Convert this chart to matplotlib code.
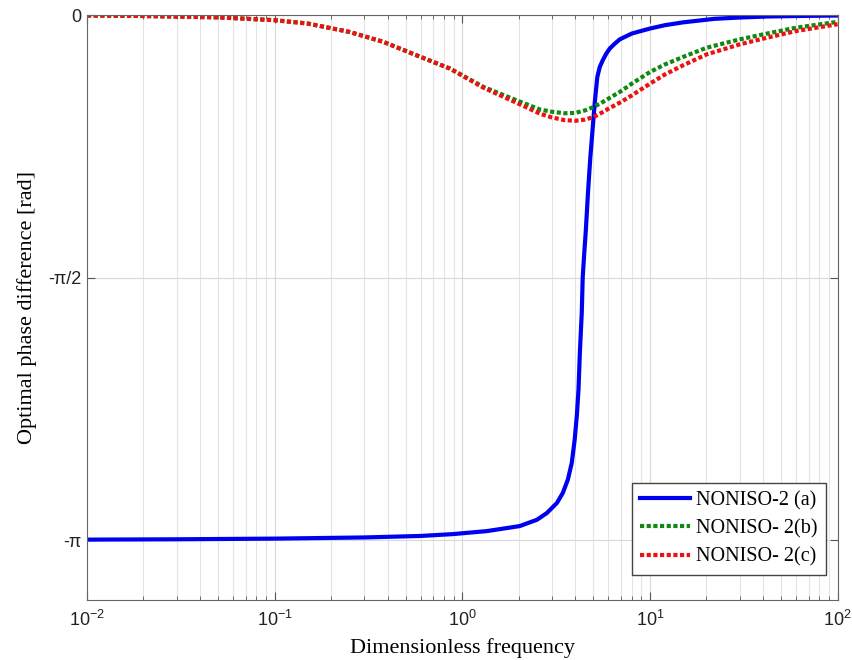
import numpy as np
import matplotlib
matplotlib.use("Agg")
from matplotlib import pyplot as plt
from matplotlib.ticker import LogLocator, NullFormatter

# NONISO-2 (a)
freq_a = [0.01, 0.03, 0.1, 0.3, 0.6, 0.89, 1.35, 2.02, 2.5, 2.82, 3.19, 3.43,
          3.65, 3.83, 3.97, 4.08, 4.16, 4.23, 4.33, 4.38, 4.46, 4.55, 4.68,
          4.81, 4.94, 5.08, 5.24, 5.4, 5.6, 5.85, 6.1, 6.5, 6.9, 7.5, 8.0,
          8.8, 10, 12, 15, 22, 30, 42, 60, 100]
phase_a = [-3.139, -3.137, -3.133, -3.126, -3.117, -3.106, -3.088, -3.058,
           -3.02, -2.98, -2.92, -2.86, -2.78, -2.68, -2.54, -2.39, -2.24,
           -2.02, -1.78, -1.57, -1.43, -1.29, -1.05, -0.85, -0.69, -0.52,
           -0.37, -0.31, -0.27, -0.23, -0.20, -0.17, -0.145, -0.125, -0.11,
           -0.097, -0.08, -0.06, -0.043, -0.022, -0.014, -0.008, -0.005,
           -0.002]

# NONISO- 2(b)
freq_b = [0.01, 0.02, 0.05, 0.1, 0.15, 0.25, 0.38, 0.57, 0.86, 1.3, 1.95, 2.6,
          3.0, 3.5, 4.0, 4.5, 5.0, 5.5, 6.0, 7.0, 8.0, 10, 12, 15, 20, 30, 42,
          60, 100]
phase_b = [-0.002, -0.005, -0.013, -0.03, -0.05, -0.10, -0.16, -0.24, -0.32,
           -0.43, -0.51, -0.565, -0.578, -0.587, -0.585, -0.57, -0.55, -0.525,
           -0.50, -0.455, -0.41, -0.34, -0.295, -0.25, -0.195, -0.145, -0.11,
           -0.075, -0.04]

# NONISO- 2(c)
freq_c = [0.01, 0.02, 0.05, 0.1, 0.15, 0.25, 0.38, 0.57, 0.86, 1.3, 1.95, 2.6,
          3.0, 3.5, 4.0, 4.5, 5.0, 5.5, 6.0, 7.0, 8.0, 10, 12, 15, 20, 30, 42,
          60, 100]
phase_c = [-0.002, -0.005, -0.013, -0.03, -0.05, -0.10, -0.16, -0.24, -0.32,
           -0.435, -0.525, -0.59, -0.612, -0.628, -0.632, -0.625, -0.61,
           -0.585, -0.56, -0.52, -0.48, -0.41, -0.355, -0.30, -0.235, -0.175,
           -0.135, -0.095, -0.054]

ytick_vals = [-np.pi, -np.pi / 2, 0]
ytick_labels = [u'-\u03c0', u'-\u03c0/2', '0']

fig = plt.figure(figsize=(8.53, 6.6), dpi=100)
ax = fig.add_axes([0.102, 0.091, 0.880, 0.886])

ax.plot(freq_a, phase_a, color='#0000f0', lw=3, label='NONISO-2 (a)')
ax.plot(freq_b, phase_b, color='#118811', lw=3, ls=(0, (1, 0.6)),
        label='NONISO- 2(b)')
ax.plot(freq_c, phase_c, color='#ee1111', lw=3, ls=(0, (1, 0.6)),
        label='NONISO- 2(c)')

ax.set_xscale('log')
ax.set_xlim(0.01, 100)
ax.set_ylim(-3.5, 0)
ax.set_yticks(ytick_vals)
ax.set_yticklabels(ytick_labels)
ax.xaxis.set_minor_locator(LogLocator(base=10, subs=np.arange(2, 10)))
ax.xaxis.set_minor_formatter(NullFormatter())

ax.grid(True, which='major', color='#d8d8d8', lw=0.8)
ax.grid(True, which='minor', axis='x', color='#e4e4e4', lw=0.8)
ax.tick_params(which='both', direction='in', top=True, right=True,
               colors='#555555', labelcolor='#222222', labelsize=13)
ax.tick_params(which='major', length=6)
ax.tick_params(which='minor', length=3)
ax.tick_params(axis='y', pad=4)
ax.tick_params(axis='x', pad=7)
for tl in ax.get_xticklabels() + ax.get_yticklabels():
    tl.set_family('Liberation Sans')
for sp in ax.spines.values():
    sp.set_color('#666666')

ax.set_xlabel('Dimensionless frequency', family='Liberation Serif',
              fontsize=16, labelpad=6)
ax.set_ylabel('Optimal phase difference [rad]', family='Liberation Serif',
              fontsize=16, labelpad=8)

leg = ax.legend(loc='lower right', bbox_to_anchor=(0.984, 0.043),
                prop={'family': 'Liberation Serif', 'size': 14.5},
                fancybox=False, edgecolor='#444444', framealpha=1,
                handlelength=2.5, borderaxespad=0, labelspacing=0.45,
                handletextpad=0.3)
leg.get_frame().set_linewidth(1.0)

plt.savefig('out.png', dpi=100)
